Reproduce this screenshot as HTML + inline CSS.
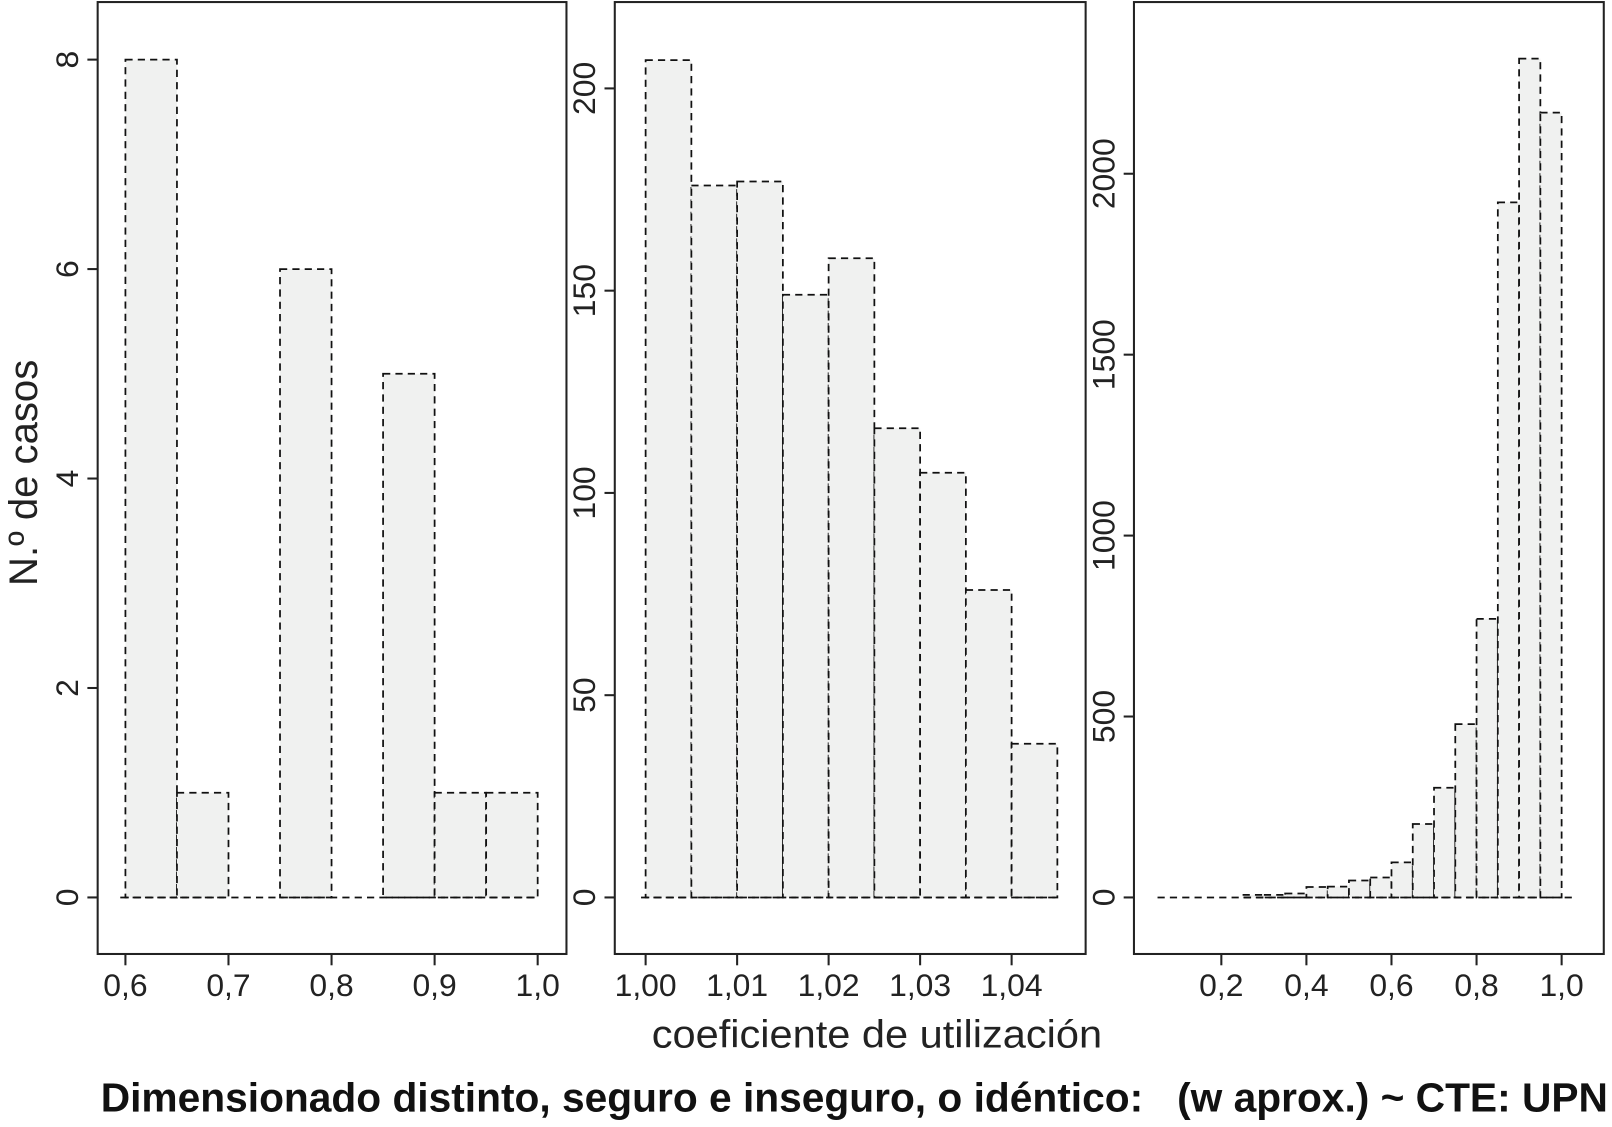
<!DOCTYPE html>
<html><head><meta charset="utf-8"><style>html,body{margin:0;padding:0;background:#fff}svg{display:block}</style></head>
<body>
<svg id="c" width="1612" height="1127" viewBox="0 0 1568 1096.3" preserveAspectRatio="none" xmlns="http://www.w3.org/2000/svg" font-family="Liberation Sans, sans-serif">
<text transform="translate(36,460) rotate(-90)" text-anchor="middle" font-size="39" fill="#222">N.º de casos</text>
<text x="634" y="1019" textLength="438" lengthAdjust="spacingAndGlyphs" font-size="38" fill="#222">coeficiente de utilización</text>
<text x="98" y="1081" textLength="1466" lengthAdjust="spacingAndGlyphs" font-size="40" font-weight="bold" fill="#111">Dimensionado distinto, seguro e inseguro, o idéntico:&#160;&#160; (w aprox.) ~ CTE: UPN</text>
</svg>
<script>
// Panel 1
const p1Bins = [0.60,0.65,0.70,0.75,0.80,0.85,0.90,0.95];
const p1Counts = [8,1,0,6,0,5,1,1];
const p1XTicks = [0.6,0.7,0.8,0.9,1.0];
const p1XLabels = ["0,6","0,7","0,8","0,9","1,0"];
const p1YTicks = [0,2,4,6,8];
// Panel 2
const p2Bins = [1.000,1.005,1.010,1.015,1.020,1.025,1.030,1.035,1.040];
const p2Counts = [207,176,177,149,158,116,105,76,38];
const p2XTicks = [1.00,1.01,1.02,1.03,1.04];
const p2XLabels = ["1,00","1,01","1,02","1,03","1,04"];
const p2YTicks = [0,50,100,150,200];
// Panel 3
const p3Bins = [0.25,0.30,0.35,0.40,0.45,0.50,0.55,0.60,0.65,0.70,0.75,0.80,0.85,0.90,0.95];
const p3Counts = [7,7,11,29,30,47,55,97,203,303,479,770,1921,2318,2169];
const p3XTicks = [0.2,0.4,0.6,0.8,1.0];
const p3XLabels = ["0,2","0,4","0,6","0,8","1,0"];
const p3YTicks = [0,500,1000,1500,2000];

const NS = "http://www.w3.org/2000/svg";
const svg = document.getElementById('c');
function mk(tag, attrs, parent){const e=document.createElementNS(NS,tag);for(const k in attrs)e.setAttribute(k,attrs[k]);(parent||svg).appendChild(e);return e;}

function panel(cfg){
  const g = mk('g',{});
  
  
  const sx = v => cfg.x0px + (v - cfg.x0v) * cfg.xs;
  const sy = v => 873 - v * cfg.ys;
  cfg.bins.forEach((b,i)=>{
    const c = cfg.counts[i];
    const x1 = sx(b), x2 = sx(b + cfg.bw);
    const r = mk('rect',{x:x1,y:sy(c),width:x2-x1,height:sy(0)-sy(c),fill:c>0?'#f0f1f0':'none',stroke:'#111','stroke-width':1.7,'stroke-dasharray':'7,5'},g);
    
    
  });
  const bl = mk('line',{x1:sx(cfg.blFrom),x2:sx(cfg.blTo),y1:sy(0),y2:sy(0),stroke:'#111','stroke-width':1.7,'stroke-dasharray':'7,5'},g);
  
  
  const f = mk('rect',{x:cfg.fx1,y:2,width:cfg.fx2-cfg.fx1,height:926,fill:'none',stroke:'#222','stroke-width':2},g);
  
  
  cfg.xt.forEach((t,i)=>{
    const x = sx(t);
    mk('line',{x1:x,x2:x,y1:928,y2:939,stroke:'#222','stroke-width':2},g);
    const tx = mk('text',{x:x,y:969,'text-anchor':'middle','font-size':31,fill:'#222'},g);
    tx.textContent = cfg.xl[i];
    
    
  });
  cfg.yt.forEach(t=>{
    const y = sy(t);
    mk('line',{x1:cfg.fx1-10,x2:cfg.fx1,y1:y,y2:y,stroke:'#222','stroke-width':2},g);
    const tx = mk('text',{transform:`translate(${cfg.fx1-19},${y}) rotate(-90)`,'text-anchor':'middle','font-size':31,fill:'#222'},g);
    tx.textContent = String(t);
    
    
  });
}

panel({name:'panel-1',bins:p1Bins,counts:p1Counts,bw:0.05,x0v:0.6,x0px:122,xs:(523-122)/0.4,ys:(873-58)/8,xt:p1XTicks,xl:p1XLabels,yt:p1YTicks,fx1:95,fx2:551,blFrom:0.595,blTo:1.0});
panel({name:'panel-2',bins:p2Bins,counts:p2Counts,bw:0.005,x0v:1.0,x0px:628,xs:(984-628)/0.04,ys:(873-86)/200,xt:p2XTicks,xl:p2XLabels,yt:p2YTicks,fx1:598,fx2:1056,blFrom:0.9995,blTo:1.045});
panel({name:'panel-3',bins:p3Bins,counts:p3Counts,bw:0.05,x0v:0.2,x0px:1188,xs:(1519-1188)/0.8,ys:(873-169)/2000,xt:p3XTicks,xl:p3XLabels,yt:p3YTicks,fx1:1103,fx2:1560,blFrom:0.05,blTo:1.028});
</script>
</body></html>
